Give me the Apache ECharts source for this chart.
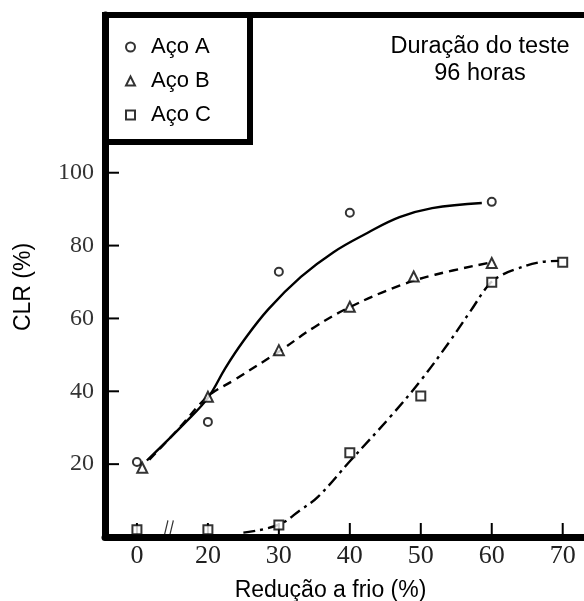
<!DOCTYPE html>
<html><head><meta charset="utf-8">
<script src="https://cdn.jsdelivr.net/npm/echarts@6/dist/echarts.min.js"></script>
<style>html,body{margin:0;padding:0;background:#fff}#c{width:584px;height:601px}</style>
</head><body><div id="c"></div>
<script>
const seriesNames = ['Aço A', 'Aço B', 'Aço C'];
const xTickValues = [0, 20, 30, 40, 50, 60, 70];
const xTickLabels = ['0', '20', '30', '40', '50', '60', '70'];
const yTickValues = [20, 40, 60, 80, 100];
const yTickLabels = ['20', '40', '60', '80', '100'];

// measured points [redução a frio %, CLR %]
const pointsA = [[0, 20.6], [20, 31.6], [30, 72.8], [40, 89.0], [60, 92.0]];
const pointsB = [[1.5, 19.0], [20, 38.5], [30, 51.3], [40, 63.2], [49, 71.5], [60, 75.2]];
const pointsC = [[0, 2], [20, 2], [30, 3.3], [40, 23.1], [50, 38.7], [60, 69.9], [70, 75.4]];

// fitted curves
const curveA = [[2.8, 21.0], [13.4, 31.2], [20, 38.2], [22.5, 46.5], [25, 53.8], [28.5, 62.5], [33.1, 71.4], [37.7, 78.2], [42.4, 83.4], [47, 87.8], [51.6, 90.3], [58.6, 91.7]];
const curveB = [[3.5, 21.2], [12, 30.0], [20, 38.6], [23.7, 43.1], [30.3, 51.3], [35, 57.6], [40.1, 63.2], [47, 69.0], [52, 72.0], [59.7, 75.3]];
const curveC = [[25, 1.2], [29.9, 3.3], [33.1, 7.5], [35.5, 11], [40.1, 21], [45.7, 33], [50, 43], [54, 53.5], [57, 62], [59.7, 69.5], [61.5, 72], [63.5, 73.6], [66.7, 75.4], [69.5, 75.8]];

const breakAt = 9; // axis break between 0 and 20

// broken axis: 0..20 compressed into 10 units
function plotX(x) { return x < 20 ? 10 + x / 2 : x; }
const tr = arr => arr.map(([x, y]) => [plotX(x), y]);

const X_MIN = 5.5, X_MAX = 73, Y_MIN = 0, Y_MAX = 143.3;

const labelMap = {};
xTickValues.forEach((v, i) => { labelMap[plotX(v)] = xTickLabels[i]; });
const yLabelMap = {};
yTickValues.forEach((v, i) => { yLabelMap[v] = yTickLabels[i]; });

const serif = 'Liberation Serif';
const sans = 'Liberation Sans';

const chart = echarts.init(document.getElementById('c'), null, { renderer: 'canvas' });

const markerStyle = { color: '#fff', borderColor: '#000', borderWidth: 2 };

// inward tick marks drawn through the axis scales
function tickRenderer(kind) {
  return function (params, api) {
    const cs = params.coordSys;
    if (kind === 'x') {
      const px = api.coord([api.value(0), Y_MIN])[0];
      const y0 = cs.y + cs.height;
      return { type: 'line', shape: { x1: px, y1: y0, x2: px, y2: y0 - 14 },
        style: { stroke: '#000', lineWidth: 2 } };
    }
    const py = api.coord([X_MIN, api.value(1)])[1];
    return { type: 'line', shape: { x1: cs.x, y1: py, x2: cs.x + 14, y2: py },
      style: { stroke: '#000', lineWidth: 2 } };
  };
}

chart.setOption({
  animation: false,
  backgroundColor: '#fff',
  grid: { left: 105, right: 0, top: 15, bottom: 64, containLabel: false, outerBoundsMode: 'none' },
  xAxis: [{
    type: 'value', min: X_MIN, max: X_MAX,
    axisLine: { show: true, onZero: false, lineStyle: { color: '#000', width: 7 } },
    axisTick: { show: false },
    axisLabel: { customValues: xTickValues.map(plotX), formatter: v => labelMap[v] ?? '', margin: 6,
      fontFamily: serif, fontSize: 26, color: '#222' },
    splitLine: { show: false },
    name: 'Redução a frio (%)', nameLocation: 'middle', nameGap: 42,
    nameTextStyle: { fontFamily: sans, fontSize: 23, color: '#000', padding: [0, 28, 0, 0] }
  }, {
    type: 'value', position: 'top', min: X_MIN, max: X_MAX,
    axisLine: { show: true, onZero: false, lineStyle: { color: '#000', width: 6 } },
    axisTick: { show: false }, axisLabel: { show: false }, splitLine: { show: false }
  }],
  yAxis: {
    type: 'value', min: Y_MIN, max: Y_MAX,
    axisLine: { show: true, onZero: false, lineStyle: { color: '#000', width: 7 } },
    axisTick: { show: false },
    axisLabel: { customValues: yTickValues, formatter: v => yLabelMap[v] ?? '', margin: 11,
      fontFamily: serif, fontSize: 24, color: '#333' },
    splitLine: { show: false },
    name: 'CLR (%)', nameLocation: 'middle', nameGap: 70, nameRotate: 90,
    nameTextStyle: { fontFamily: sans, fontSize: 23, color: '#000', padding: [0, 22, 0, 0] }
  },
  legend: {
    data: seriesNames, orient: 'vertical', left: 120, top: 31,
    itemWidth: 9, itemHeight: 9, itemGap: 12,
    textStyle: { fontFamily: sans, fontSize: 22, color: '#000', padding: [0, 0, 0, 11] }
  },
  graphic: [
    { type: 'rect', shape: { x: 105, y: 15, width: 145, height: 127 },
      style: { fill: 'none', stroke: '#000', lineWidth: 6 }, z: 10 },
    { type: 'text', x: 480, y: 33,
      style: { text: 'Duração do teste\n96 horas', textAlign: 'center', fontFamily: sans, fontSize: 23.5, lineHeight: 27, fill: '#000' }, z: 10 }
  ],
  series: [
    { type: 'custom', renderItem: tickRenderer('x'), data: xTickValues.map(v => [plotX(v), Y_MIN]), silent: true, clip: false, z: 1 },
    { type: 'custom', renderItem: tickRenderer('y'), data: yTickValues.map(v => [X_MIN, v]), silent: true, clip: false, z: 1 },
    { type: 'line', data: tr(curveA), smooth: 0.4, symbol: 'none', silent: true,
      lineStyle: { color: '#000', width: 2.4, type: 'solid' } },
    { type: 'line', data: tr(curveB), smooth: 0.4, symbol: 'none', silent: true,
      lineStyle: { color: '#000', width: 2.4, type: [9, 6] } },
    { type: 'line', data: tr(curveC), smooth: 0.4, symbol: 'none', silent: true,
      lineStyle: { color: '#000', width: 2.4, type: [12, 5, 3, 5] } },
    { name: seriesNames[0], type: 'scatter', data: tr(pointsA), symbol: 'circle', symbolSize: 8, itemStyle: markerStyle, z: 5 },
    { name: seriesNames[1], type: 'scatter', data: tr(pointsB), symbol: 'triangle', symbolSize: 10, itemStyle: markerStyle, z: 5 },
    { name: seriesNames[2], type: 'scatter', data: tr(pointsC), symbol: 'rect', symbolSize: 9, itemStyle: markerStyle, z: 5 },
    { type: 'scatter', data: [[plotX(breakAt), 2.5]], silent: true,
      symbol: 'path://M0,16 L4,0 M6,16 L10,0', symbolSize: [9, 15],
      itemStyle: { color: 'none', borderColor: '#000', borderWidth: 1.5 }, z: 6 }
  ]
});
</script></body></html>
